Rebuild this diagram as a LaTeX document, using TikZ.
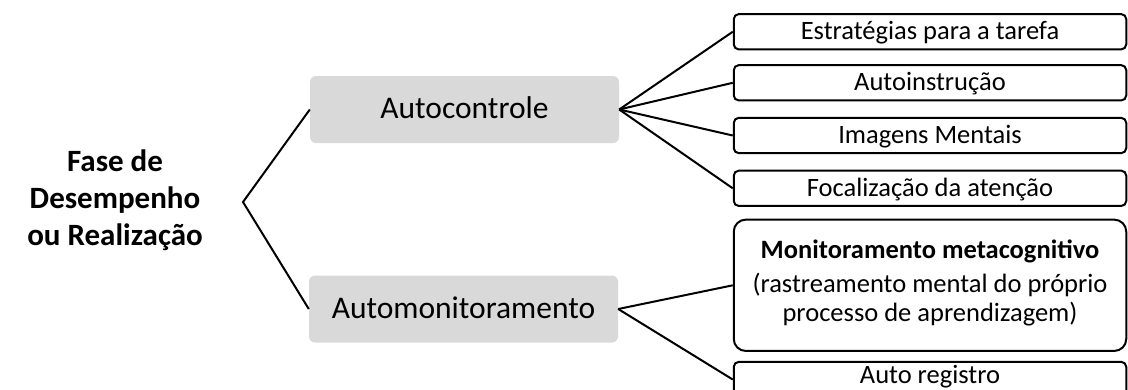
\documentclass[tikz,border=0pt]{standalone}
\usepackage{fontspec}
\setmainfont{Carlito}
\definecolor{boxgray}{HTML}{D9D9D9}
\begin{document}
\begin{tikzpicture}[x=1pt,y=-1pt,
  conn/.style={line width=2pt},
  phasebox/.style={fill=boxgray, rounded corners=6pt, inner sep=0pt,
    minimum width=309pt, minimum height=67pt,
    font=\fontsize{31.5}{38}\selectfont, text height=20pt, text depth=2pt},
  itembox/.style={draw, line width=2pt, rounded corners=5pt, inner sep=0pt,
    minimum width=392.5pt, minimum height=35.3pt,
    font=\fontsize{26.5}{29}\selectfont, text height=17pt, text depth=1pt},
  bigbox/.style={draw, line width=2pt, rounded corners=12pt, inner sep=0pt,
    minimum width=392.5pt, minimum height=131.3pt},
  itemtext/.style={inner sep=0pt, anchor=base, font=\fontsize{26.5}{29}\selectfont}]
  \clip (0,0) rectangle (1128,389);

  % title of the phase
  \node[align=center, inner sep=0pt, font=\bfseries\fontsize{31}{37}\selectfont]
    (fase) at (115,200) {Fase de\\Desempenho\\ou Realização};

  % the two processes
  \node[phasebox] (ac) at (464.5,109.5) {Autocontrole};
  \node[phasebox] (am) at (463.5,309) {Automonitoramento};

  % strategies of self-control
  \node[itembox] (e1) at (930,31.75) {Estratégias para a tarefa};
  \node[itembox] (e2) at (930,82.8) {Autoinstrução};
  \node[itembox] (e3) at (930,135.5) {Imagens Mentais};
  \node[itembox] (e4) at (930,188.3) {Focalização da atenção};

  % forms of self-monitoring
  \node[bigbox] (m1) at (930,285.3) {};
  \node[itemtext] (m1a) at (930,258) {\textbf{Monitoramento metacognitivo}};
  \node[itemtext] (m1b) at (930,292) {(rastreamento mental do próprio};
  \node[itemtext] (m1c) at (930,321) {processo de aprendizagem)};
  \node[itembox] (m2) at (930,379.5) {};
  \node[itemtext] (m2a) at (930,383.5) {Auto registro};

  % connectors
  \coordinate (v) at (243,202);
  \draw[conn] (ac.west) -- (v) -- (am.west);
  \foreach \t in {e1,e2,e3,e4}
    \draw[conn] (ac.east) -- (\t.west);
  \foreach \t in {m1,m2}
    \draw[conn] (am.east) -- (\t.west);
\end{tikzpicture}
\end{document}
